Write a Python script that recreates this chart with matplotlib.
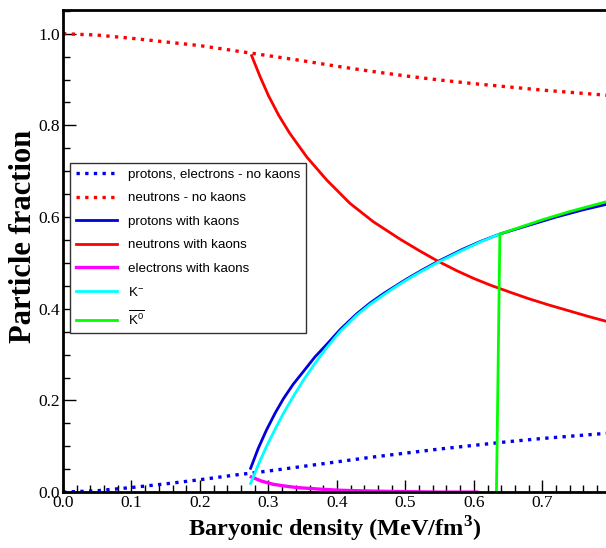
import matplotlib
matplotlib.use('Agg')
import matplotlib.pyplot as plt
from matplotlib.ticker import MultipleLocator

# --- data ---
x_nokaon = [0.0, 0.05, 0.1, 0.15, 0.2, 0.25, 0.3, 0.35, 0.4, 0.45, 0.5,
            0.55, 0.6, 0.65, 0.7, 0.75, 0.8]
neutrons_nokaon = [1.0, 0.997, 0.99, 0.982, 0.974, 0.963, 0.952, 0.941, 0.929,
                   0.918, 0.908, 0.899, 0.891, 0.884, 0.877, 0.871, 0.865]
protons_nokaon = [0.0, 0.003, 0.01, 0.018, 0.027, 0.037, 0.046, 0.056, 0.066,
                  0.076, 0.085, 0.094, 0.102, 0.11, 0.117, 0.123, 0.129]

x_prot = [0.274, 0.285, 0.297, 0.31, 0.322, 0.336, 0.351, 0.368, 0.385, 0.405,
          0.429, 0.448, 0.468, 0.485, 0.502, 0.524, 0.546, 0.565, 0.584, 0.61,
          0.638, 0.66, 0.68, 0.70, 0.72, 0.74, 0.76, 0.78, 0.8]
protons_kaon = [0.052, 0.095, 0.135, 0.173, 0.204, 0.235, 0.263, 0.295, 0.322,
                0.355, 0.389, 0.412, 0.433, 0.449, 0.465, 0.484, 0.502, 0.516,
                0.530, 0.547, 0.563, 0.573, 0.582, 0.591, 0.600, 0.608, 0.616,
                0.623, 0.630]

x_neut = [0.2755, 0.2876, 0.3, 0.315, 0.331, 0.356, 0.385, 0.419, 0.453, 0.492,
          0.52, 0.546, 0.575, 0.6, 0.625, 0.653, 0.68, 0.71, 0.74, 0.77, 0.8]
neutrons_kaon = [0.952, 0.907, 0.865, 0.822, 0.783, 0.731, 0.681, 0.630, 0.590,
                 0.552, 0.527, 0.505, 0.483, 0.466, 0.451, 0.436, 0.422, 0.408,
                 0.395, 0.382, 0.370]

x_elec = [0.275, 0.29, 0.307, 0.325, 0.341, 0.36, 0.38, 0.405, 0.429, 0.46,
          0.5, 0.55, 0.604]
electrons_kaon = [0.033, 0.024, 0.017, 0.013, 0.010, 0.008, 0.006, 0.004,
                  0.003, 0.002, 0.001, 0.0, 0.0]

x_kminus = [0.274, 0.285, 0.297, 0.31, 0.322, 0.336, 0.351, 0.368, 0.385,
            0.405, 0.429, 0.448, 0.468, 0.485, 0.502, 0.524, 0.546, 0.565,
            0.584, 0.61, 0.638]
kminus = [0.019, 0.059, 0.099, 0.138, 0.172, 0.208, 0.244, 0.281, 0.315, 0.351,
          0.386, 0.409, 0.430, 0.447, 0.463, 0.482, 0.500, 0.514, 0.528, 0.546,
          0.563]

x_k0bar = [0.633, 0.638, 0.66, 0.68, 0.70, 0.72, 0.74, 0.76, 0.78, 0.8]
k0bar = [0.0, 0.563, 0.574, 0.584, 0.594, 0.603, 0.612, 0.620, 0.628, 0.636]

plt.rcParams['font.family'] = ['Liberation Serif', 'DejaVu Serif']
plt.rcParams['mathtext.fontset'] = 'custom'
plt.rcParams['mathtext.rm'] = 'Liberation Sans'
plt.rcParams['mathtext.it'] = 'Liberation Sans'
plt.rcParams['mathtext.bf'] = 'Liberation Serif:bold'

fig = plt.figure(figsize=(6.06, 5.48), dpi=100)
ax = fig.add_axes([0.104, 0.102, 0.896, 0.880])

dots = (0, (1, 1.6))
ax.plot(x_nokaon, protons_nokaon, color='#0000ee', lw=2.4, ls=dots,
        label='protons, electrons - no kaons')
ax.plot(x_nokaon, neutrons_nokaon, color='#ff0000', lw=2.4, ls=dots,
        label='neutrons - no kaons')
ax.plot(x_prot, protons_kaon, color='#0000dd', lw=2.0, label='protons with kaons')
ax.plot(x_neut, neutrons_kaon, color='#ff0000', lw=2.0, label='neutrons with kaons')
ax.plot(x_elec, electrons_kaon, color='#ff00ff', lw=2.4, label='electrons with kaons')
ax.plot(x_kminus, kminus, color='#00ffff', lw=2.0, label='K$^{-}$')
ax.plot(x_k0bar, k0bar, color='#00ff00', lw=2.0,
        label=r'$\overline{\mathrm{K}^{0}}$')

ax.set_xlim(0, 0.793)
ax.set_ylim(0, 1.052)
ax.xaxis.set_major_locator(MultipleLocator(0.1))
ax.xaxis.set_minor_locator(MultipleLocator(0.02))
ax.yaxis.set_major_locator(MultipleLocator(0.2))
ax.yaxis.set_minor_locator(MultipleLocator(0.05))
ax.tick_params(which='both', direction='in', top=False, right=False,
               labelsize=12.5, width=1)
ax.tick_params(which='major', length=9)
ax.tick_params(which='minor', length=5)
ax.xaxis.set_major_formatter(plt.FuncFormatter(lambda v, p: '%.1f' % v))
ax.yaxis.set_major_formatter(plt.FuncFormatter(lambda v, p: '%.1f' % v))
ax.tick_params(axis='x', pad=2)
ax.tick_params(axis='y', pad=2)

for s in ['left', 'bottom', 'top']:
    ax.spines[s].set_linewidth(2.0)
ax.spines['right'].set_visible(False)

ax.set_xlabel('Baryonic density (MeV/fm$^{\\mathbf{3}}$)', fontsize=17.5,
              fontweight='bold', labelpad=2)
ax.set_ylabel('Particle fraction', fontsize=22, fontweight='bold')
ax.yaxis.set_label_coords(-0.047, 0.53)

leg = ax.legend(loc='upper left', bbox_to_anchor=(0.013, 0.683),
                borderaxespad=0, fancybox=False, edgecolor='#333333',
                framealpha=1, handlelength=3.1, handletextpad=0.8,
                labelspacing=0.83, borderpad=0.45,
                prop={'family': 'Liberation Sans', 'size': 9.6})
leg.get_frame().set_linewidth(1.0)

fig.savefig('out.png', dpi=100)
